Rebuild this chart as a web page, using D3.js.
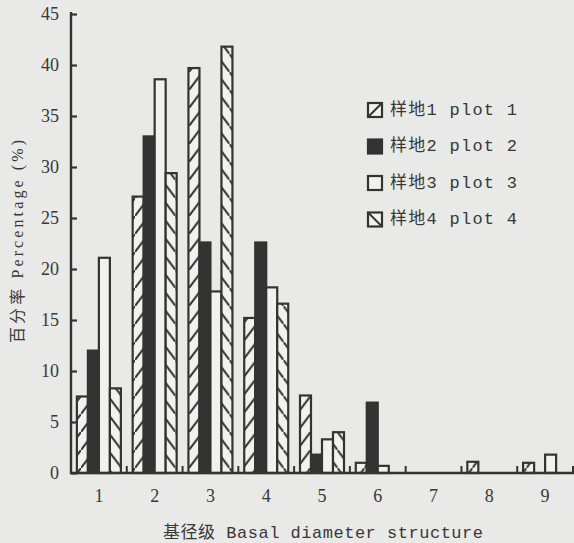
<!DOCTYPE html>
<html><head><meta charset="utf-8">
<script src="https://cdn.jsdelivr.net/npm/d3@7"></script>
<style>
html,body{margin:0;padding:0;background:#e9e9e7;}
svg{display:block;}
</style></head>
<body>
<svg id="chart" width="574" height="543"></svg>
<script>
const categories = ["1","2","3","4","5","6","7","8","9"];
const seriesNames = ["样地1 plot 1","样地2 plot 2","样地3 plot 3","样地4 plot 4"];
const plot1 = [7.5, 27.1, 39.7, 15.2, 7.6, 1.0, 0, 1.1, 1.0];
const plot2 = [12.0, 33.0, 22.6, 22.6, 1.8, 6.9, 0, 0, 0];
const plot3 = [21.1, 38.6, 17.8, 18.2, 3.3, 0.7, 0, 0, 1.8];
const plot4 = [8.3, 29.4, 41.8, 16.6, 4.0, 0, 0, 0, 0];
const yTicks = [0,5,10,15,20,25,30,35,40,45];
const series = [plot1, plot2, plot3, plot4];
const styles = ["hatchA","solid","hollow","hatchB"];

const ink = "#333";
const txt = "#383838";
const svg = d3.select("#chart");
svg.append("rect").attr("width",574).attr("height",543).attr("fill","#e9e9e7");

const defs = svg.append("defs");
function hatch(id, rising){
  const w = 13.5, h = 18;
  const p = defs.append("pattern").attr("id",id).attr("patternUnits","userSpaceOnUse")
    .attr("width",w).attr("height",h);
  p.append("rect").attr("width",w).attr("height",h).attr("fill","#f1f1f0");
  if (rising){
    p.append("line").attr("x1",-1).attr("y1",h+h/w).attr("x2",w+1).attr("y2",-h/w);
  } else {
    p.append("line").attr("x1",-1).attr("y1",-h/w).attr("x2",w+1).attr("y2",h+h/w);
  }
  p.selectAll("line").attr("stroke",ink).attr("stroke-width",2);
}
hatch("hatchA", true);
hatch("hatchB", false);

const x = d3.scaleBand().domain(categories).range([71, 573]).paddingInner(0).paddingOuter(0);
const y = d3.scaleLinear().domain([0,45]).range([473, 14]);
const barW = 11;

function fillFor(s){
  if (s==="hatchA") return "url(#hatchA)";
  if (s==="hatchB") return "url(#hatchB)";
  if (s==="solid") return ink;
  return "#f1f1f0";
}

// bars
series.forEach((vals, si) => {
  svg.append("g").selectAll("rect").data(vals.map((v,i)=>({c:categories[i], v})).filter(d=>d.v>0))
    .join("rect")
    .attr("x", d => x(d.c) + x.bandwidth()/2 - 2*barW + si*barW)
    .attr("y", d => y(d.v))
    .attr("width", barW)
    .attr("height", d => y(0) - y(d.v))
    .attr("fill", fillFor(styles[si]))
    .attr("stroke", ink)
    .attr("stroke-width", 2.2);
});

// y axis
const yAxis = d3.axisRight(y).tickValues(yTicks).tickSize(6).tickFormat("");
const gy = svg.append("g").attr("transform","translate(71,0)").call(yAxis);
gy.select(".domain").attr("stroke",ink).attr("stroke-width",2.4).attr("d","M0,12V474");
gy.selectAll(".tick line").attr("stroke",ink).attr("stroke-width",2.2);

svg.append("g").selectAll("text").data(yTicks).join("text")
  .attr("x",59).attr("y",d=>y(d)).attr("dy","0.35em")
  .attr("text-anchor","end")
  .attr("font-family","Liberation Serif, serif").attr("font-size",18).attr("fill",txt)
  .text(d=>d);

// x axis
const xAxis = d3.axisBottom(x).tickSize(0).tickFormat("");
const gx = svg.append("g").attr("transform","translate(0,473)").call(xAxis);
gx.select(".domain").attr("stroke",ink).attr("stroke-width",2.4).attr("d","M70,0H574");
// small upward ticks at band boundaries
svg.append("g").selectAll("line").data(categories).join("line")
  .attr("x1",d=>x(d)+x.bandwidth()).attr("x2",d=>x(d)+x.bandwidth())
  .attr("y1",473).attr("y2",466)
  .attr("stroke",ink).attr("stroke-width",2);

svg.append("g").selectAll("text").data(categories).join("text")
  .attr("x",d=>x(d)+x.bandwidth()/2).attr("y",502)
  .attr("text-anchor","middle")
  .attr("font-family","Liberation Serif, serif").attr("font-size",18).attr("fill",txt)
  .text(d=>d);

// axis titles
svg.append("text").attr("x",163).attr("y",538)
  .attr("font-family","Liberation Mono, Noto Sans CJK SC, monospace").attr("font-size",17)
  .attr("fill",txt).attr("textLength",320).attr("lengthAdjust","spacing")
  .text("基径级 Basal diameter structure");

svg.append("text").attr("transform","translate(17,343) rotate(-90)")
  .attr("dominant-baseline","central")
  .attr("font-family","Liberation Serif, Noto Sans CJK SC, serif").attr("font-size",16)
  .attr("fill",txt).attr("textLength",203).attr("lengthAdjust","spacing")
  .text("百分率 Percentage (%)");

// legend
const legY = [110, 146.5, 183, 219.5];
const leg = svg.append("g");
seriesNames.forEach((name, i) => {
  const g = leg.append("g").attr("transform",`translate(368,${legY[i]})`);
  g.append("rect").attr("x",0).attr("y",-7).attr("width",14).attr("height",14)
    .attr("fill", styles[i]==="solid" ? ink : "#f1f1f0")
    .attr("stroke",ink).attr("stroke-width",2.2);
  if (styles[i]==="hatchA"){
    g.append("line").attr("x1",0).attr("y1",7).attr("x2",14).attr("y2",-7).attr("stroke",ink).attr("stroke-width",2);
  } else if (styles[i]==="hatchB"){
    g.append("line").attr("x1",0).attr("y1",-7).attr("x2",14).attr("y2",7).attr("stroke",ink).attr("stroke-width",2);
  }
  g.append("text").attr("x",22).attr("y",0).attr("dominant-baseline","central")
    .attr("font-family","Liberation Mono, Noto Sans CJK SC, monospace").attr("font-size",17)
    .attr("fill",txt).attr("textLength",127).attr("lengthAdjust","spacing")
    .text(name);
});
</script>
</body></html>
